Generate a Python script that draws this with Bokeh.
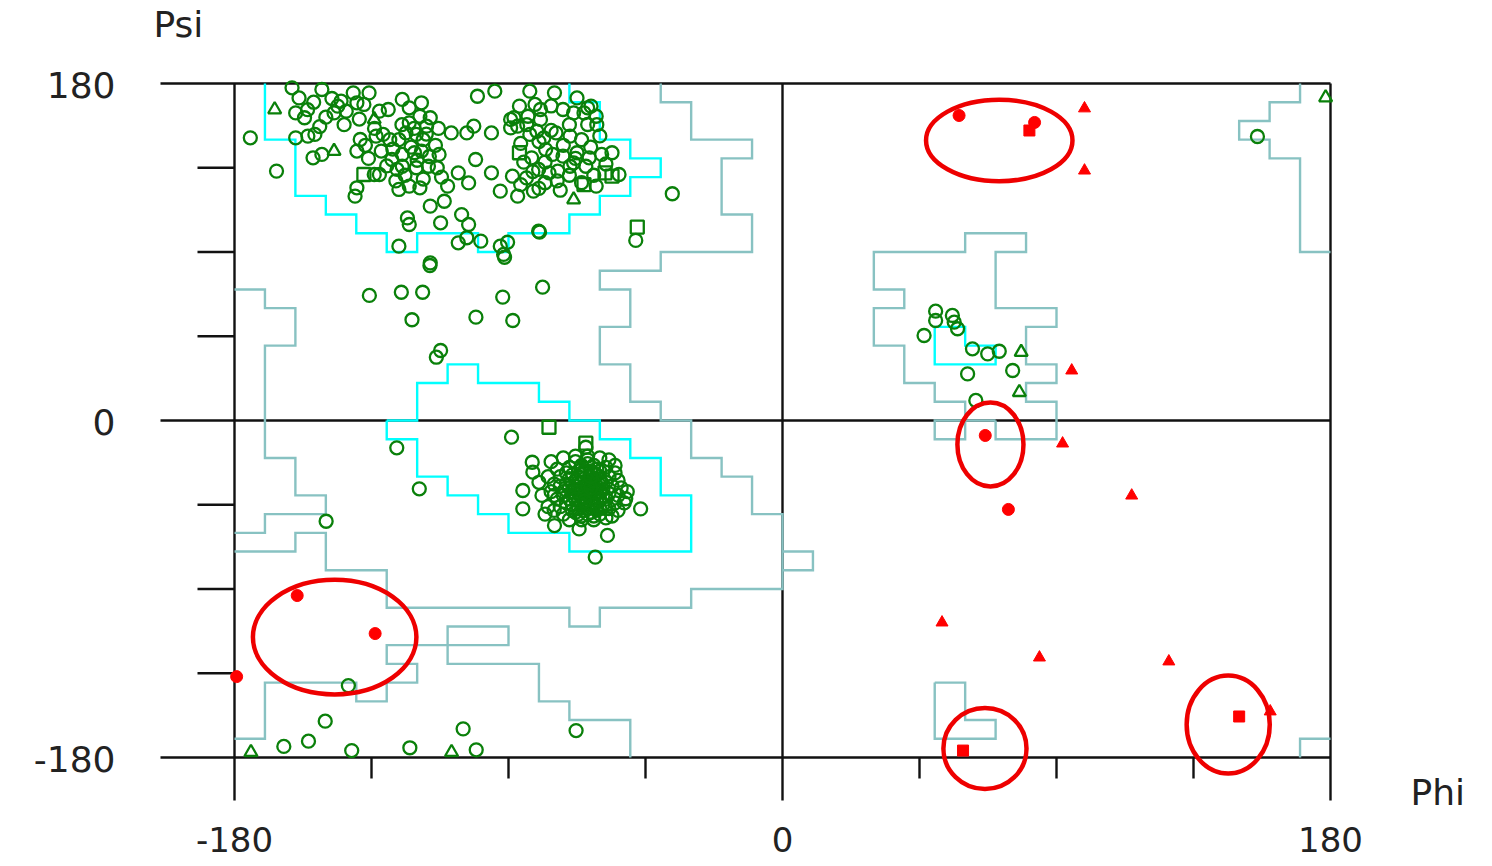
import numpy as np
from bokeh.plotting import figure
from bokeh.models import Range1d
from bokeh.embed import file_html
from bokeh.resources import INLINE
from bokeh.core.properties import value

# ---------------- data ----------------
major_ticks = [-180, 0, 180]
major_labels = ["-180", "0", "180"]
minor_ticks = [-135, -90, -45, 45, 90, 135]

# favoured (core) regions, cyan
core_beta = [(-170, 180), (-170, 150), (-160, 150), (-160, 120), (-150, 120), (-150, 110),
             (-140, 110), (-140, 100), (-130, 100), (-130, 90), (-120, 90), (-120, 100),
             (-100, 100), (-100, 90), (-90, 90), (-90, 100), (-70, 100), (-70, 110),
             (-60, 110), (-60, 120), (-50, 120), (-50, 130), (-40, 130), (-40, 140),
             (-50, 140), (-50, 150), (-60, 150), (-60, 170), (-70, 170), (-70, 180)]
core_alpha = [(-130, 0), (-120, 0), (-120, 20), (-110, 20), (-110, 30), (-100, 30),
              (-100, 20), (-80, 20), (-80, 10), (-70, 10), (-70, 0), (-60, 0), (-60, -10),
              (-50, -10), (-50, -20), (-40, -20), (-40, -40), (-30, -40), (-30, -70),
              (-70, -70), (-70, -60), (-90, -60), (-90, -50), (-100, -50), (-100, -40),
              (-110, -40), (-110, -30), (-120, -30), (-120, -10), (-130, -10), (-130, 0)]
core_left = [(50, 50), (60, 50), (60, 40), (70, 40), (70, 30), (50, 30), (50, 50)]

# allowed regions, grey-teal
allowed_main = [(-180, -70), (-160, -70), (-160, -60), (-150, -60), (-150, -80), (-130, -80),
                (-130, -100), (-70, -100), (-70, -110), (-60, -110), (-60, -100), (-30, -100),
                (-30, -90), (0, -90), (0, -50), (-10, -50), (-10, -30), (-20, -30), (-20, -20),
                (-30, -20), (-30, 0), (-40, 0), (-40, 10), (-50, 10), (-50, 30), (-60, 30),
                (-60, 50), (-50, 50), (-50, 70), (-60, 70), (-60, 80), (-40, 80), (-40, 90),
                (-10, 90), (-10, 110), (-20, 110), (-20, 140), (-10, 140), (-10, 150),
                (-30, 150), (-30, 170), (-40, 170), (-40, 180)]
allowed_left_edge = [(-180, 70), (-170, 70), (-170, 60), (-160, 60), (-160, 40), (-170, 40),
                     (-170, -20), (-160, -20), (-160, -40), (-150, -40), (-150, -50),
                     (-170, -50), (-170, -60), (-180, -60)]
allowed_bottom_left = [(-180, -170), (-170, -170), (-170, -140), (-140, -140), (-140, -150),
                       (-130, -150), (-130, -140), (-120, -140), (-120, -130), (-130, -130),
                       (-130, -120), (-90, -120), (-90, -110), (-110, -110), (-110, -130),
                       (-80, -130), (-80, -150), (-70, -150), (-70, -160), (-50, -160),
                       (-50, -180)]
allowed_box_zero = [(0, -70), (10, -70), (10, -80), (0, -80)]
allowed_left_handed = [(70, 0), (70, -10), (90, -10), (90, 10), (80, 10), (80, 20), (90, 20),
                       (90, 30), (80, 30), (80, 50), (90, 50), (90, 60), (70, 60), (70, 90),
                       (80, 90), (80, 100), (60, 100), (60, 90), (30, 90), (30, 70), (40, 70),
                       (40, 60), (30, 60), (30, 40), (40, 40), (40, 20), (50, 20), (50, 10),
                       (60, 10), (60, 0), (50, 0), (50, -10), (60, -10), (60, 0), (70, 0)]
allowed_bottom_mid = [(50, -140), (60, -140), (60, -160), (70, -160), (70, -170), (50, -170),
                      (50, -140)]
allowed_top_right = [(170, 180), (170, 170), (160, 170), (160, 160), (150, 160), (150, 150),
                     (160, 150), (160, 140), (170, 140), (170, 90), (180, 90)]
allowed_bottom_right = [(170, -180), (170, -170), (180, -170)]

# non-glycine residues (green, open circles)
beta_circles = [
    (-161.1, 177.7), (-158.8, 172.3), (-151.3, 176.8), (-135.8, 175.0), (-145.0, 170.6),
    (-146.1, 167.9), (-139.8, 169.7), (-137.5, 168.8), (-124.9, 171.5), (-118.6, 169.7),
    (-100.2, 173.2), (-94.5, 175.9), (-83.0, 175.9), (-74.9, 175.0), (-67.5, 172.3),
    (-62.9, 167.9), (-159.9, 164.3), (-157.0, 161.7), (-147.3, 164.3), (-143.3, 165.2),
    (-132.4, 165.2), (-129.5, 166.1), (-122.6, 167.0), (-119.1, 162.5), (-115.7, 161.7),
    (-122.6, 159.0), (-86.4, 167.9), (-81.3, 168.8), (-88.2, 161.7), (-72.1, 166.1),
    (-68.6, 164.3), (-65.2, 164.3), (-61.2, 162.5), (-83.6, 162.5), (-79.5, 160.8),
    (-174.8, 151.0), (-159.9, 151.0), (-155.9, 151.9), (-153.6, 152.8), (-138.7, 150.1),
    (-133.5, 151.9), (-131.2, 152.8), (-123.7, 153.6), (-120.3, 152.8), (-116.9, 157.2),
    (-108.8, 153.6), (-103.7, 153.6), (-101.4, 157.2), (-95.6, 153.6), (-89.3, 156.3),
    (-87.0, 157.2), (-83.0, 152.8), (-80.7, 154.5), (-78.4, 151.0), (-74.4, 153.6),
    (-69.8, 151.9), (-64.0, 158.1), (-89.3, 160.8), (-79.5, 166.1), (-154.2, 140.3),
    (-151.3, 142.1), (-139.8, 143.9), (-131.8, 143.9), (-128.3, 139.4), (-124.9, 142.1),
    (-120.9, 143.0), (-118.6, 143.9), (-112.8, 142.1), (-100.8, 139.4), (-82.4, 140.3),
    (-77.8, 144.7), (-75.5, 142.1), (-72.1, 141.2), (-67.5, 143.0), (-63.5, 140.3),
    (-59.4, 142.1), (-68.6, 137.6), (-166.2, 133.2), (-134.1, 131.4), (-132.4, 131.4),
    (-126.6, 134.1), (-124.9, 135.8), (-120.3, 135.0), (-116.3, 135.8), (-113.4, 135.0),
    (-106.5, 132.3), (-95.6, 132.3), (-88.7, 130.5), (-84.1, 129.6), (-80.1, 134.1),
    (-76.7, 132.3), (-73.8, 133.2), (-69.8, 135.8), (-64.6, 135.8), (-53.7, 131.4),
    (-139.8, 124.3), (-140.4, 119.8), (-126.0, 123.4), (-122.6, 125.2), (-119.1, 124.3),
    (-110.0, 125.2), (-103.1, 126.9), (-92.7, 122.5), (-87.0, 119.8), (-81.8, 122.5),
    (-61.2, 125.2), (-36.2, 121.1), (-115.7, 114.5), (-111.1, 117.1), (-123.2, 108.2),
    (-122.6, 104.7), (-112.3, 105.6), (-105.4, 110.0), (-103.1, 104.7), (-106.5, 94.9),
    (-103.7, 97.6), (-99.1, 95.8), (-92.7, 93.1), (-91.6, 88.7), (-80.1, 101.1),
    (-48.2, 96.2), (-126.0, 93.1), (-115.7, 84.2), (-126.0, 150.0), (-122.0, 146.0),
    (-118.0, 150.0), (-114.0, 147.0), (-128.0, 145.0), (-120.0, 139.0), (-116.0, 141.0),
    (-124.0, 131.0), (-118.0, 129.0), (-112.0, 130.0), (-127.0, 128.0), (-121.0, 156.0),
    (-117.0, 153.0), (-113.0, 156.0), (-125.0, 158.0), (-84.0, 158.0), (-80.0, 149.0),
    (-76.0, 155.0), (-72.0, 147.0), (-70.0, 158.0), (-66.0, 150.0), (-78.0, 138.0),
    (-74.0, 128.0), (-70.0, 131.0), (-66.0, 127.0), (-86.0, 148.0), (-82.0, 133.0),
    (-78.0, 127.0), (-68.0, 140.0), (-63.0, 146.0), (-60.0, 152.0), (-86.0, 126.0),
    (-80.0, 124.0), (-73.0, 123.0), (-62.0, 131.0), (-58.0, 137.0), (-56.0, 143.0),
    (-61.0, 158.0), (-64.0, 167.0), (-76.0, 168.0), (-85.0, 138.0), (-156.0, 166.0),
    (-150.0, 162.0), (-144.0, 158.0), (-141.0, 175.0), (-148.0, 172.0), (-154.0, 170.0),
    (-139.0, 161.0), (-152.0, 157.0), (-136.0, 140.0), (-130.0, 136.0), (-137.0, 147.0),
    (-129.0, 150.0), (-134.0, 156.0)]
other_circles = [
    (-79.8, 100.6), (-78.8, 71.2), (-88.6, 53.4), (-91.9, 65.9), (-91.3, 87.2), (-90.3, 95.2),
    (-115.8, 82.8), (-135.7, 66.8), (-125.2, 68.5), (-118.2, 68.5), (-121.7, 53.8),
    (-100.7, 55.2), (-112.3, 37.4), (-113.7, 33.8), (-89.0, -8.9), (-126.7, -14.6),
    (-119.3, -36.5), (-82.2, -22.3), (-85.3, -37.4), (-85.3, -47.2), (-82.0, -27.6),
    (-74.9, -56.1), (-66.8, -57.9), (-57.5, -61.4), (-46.6, -47.2), (-51.5, -41.8),
    (-61.5, -73.0), (-64.6, -14.3), (-149.9, -53.8), (-142.6, -141.6), (-150.2, -160.6),
    (-155.7, -171.3), (-163.8, -174.1), (-141.5, -176.3), (-122.4, -174.8), (-104.9, -164.7),
    (-100.6, -175.9), (-67.8, -165.6), (50.3, 58.4), (55.8, 56.1), (50.3, 53.4), (56.4, 52.5),
    (46.5, 45.4), (57.5, 49.0), (62.4, 38.3), (67.4, 35.6), (71.2, 37.0), (75.6, 26.7),
    (60.8, 24.9), (63.5, 10.7), (156.0, 151.7)]
alpha_circles = [
    (-76, -22), (-72, -20), (-68, -19), (-64, -19), (-60, -20), (-57, -21), (-55, -24),
    (-74, -26), (-70, -25), (-66, -24), (-62, -24), (-58, -25), (-55, -28), (-77, -30),
    (-73, -30), (-69, -29), (-65, -28), (-61, -29), (-57, -30), (-54, -32), (-75, -34),
    (-71, -34), (-67, -33), (-63, -33), (-59, -34), (-56, -35), (-53, -36), (-76, -38),
    (-72, -38), (-68, -37), (-64, -37), (-60, -38), (-57, -39), (-54, -40), (-74, -42),
    (-70, -42), (-66, -41), (-62, -41), (-58, -42), (-55, -44), (-77, -46), (-73, -46),
    (-69, -45), (-65, -45), (-61, -46), (-57, -47), (-54, -48), (-72, -50), (-68, -49),
    (-64, -50), (-60, -50), (-56, -51), (-70, -53), (-66, -53), (-62, -53), (-58, -52),
    (-63, -27), (-66, -36), (-61, -43), (-69, -40), (-65, -31), (-59, -37), (-67, -47),
    (-63, -44), (-71, -28), (-60, -31), (-79, -40), (-80, -33), (-78, -50), (-52, -44),
    (-51, -38), (-68, -22), (-64, -23), (-61, -26), (-67, -27), (-70, -31), (-66, -29),
    (-62, -31), (-58, -33), (-70, -36), (-65, -35), (-61, -35), (-67, -39), (-63, -39),
    (-59, -40), (-71, -44), (-67, -43), (-63, -42), (-59, -45), (-65, -48), (-61, -48),
    (-69, -48), (-66, -51), (-62, -51), (-72, -40), (-73, -35), (-60, -27), (-58, -47),
    (-75, -48), (-75, -40), (-62, -37), (-64, -21), (-66, -26), (-62, -28), (-68, -32),
    (-64, -32), (-60, -33), (-68, -35), (-64, -35), (-66, -38), (-62, -39), (-68, -42),
    (-64, -40), (-60, -42), (-66, -45), (-62, -45), (-64, -47), (-60, -47), (-67, -50),
    (-63, -49), (-69, -38), (-65, -43), (-63, -36), (-67, -30), (-63, -30)]
green_squares = [(-86.4, 143.0), (-58.3, 132.3), (-56.0, 130.5), (-65.2, 126.0),
                 (-47.7, 103.3), (-76.7, -3.6), (-137.5, 131.4), (-64.6, -12.1)]
green_triangles = [(-166.8, 166.1), (-134.1, 160.8), (-147.3, 143.9), (-68.6, 118.0),
                   (-174.6, -177.2), (-108.7, -177.2), (78.4, 36.5), (77.8, 15.1),
                   (178.4, 172.5)]

# residues in disallowed regions (red, filled)
red_circles = [(58.0, 162.9), (82.8, 159.2), (66.6, -8.0), (74.2, -47.5), (-159.4, -93.5),
               (-133.8, -113.8), (-179.3, -136.8)]
red_squares = [(81.1, 154.9), (59.3, -176.3), (150.0, -158.1)]
red_triangles = [(99.2, 166.7), (99.2, 133.5), (95.0, 26.7), (92.0, -12.3), (114.7, -40.1),
                 (52.4, -107.9), (84.4, -126.6), (126.9, -128.7), (160.2, -155.4)]

# highlighted outliers (red ellipses): centre phi, centre psi, width, height (degrees)
ring_phi = [71.2, 68.3, -147.1, 66.5, 146.4]
ring_psi = [149.6, -12.8, -115.7, -175.2, -162.4]
ring_w = [48.1, 21.7, 53.7, 27.3, 27.3]
ring_h = [43.5, 44.9, 61.2, 43.3, 52.3]

# ---------------- layout ----------------
W, H = 1492, 866
PXX = 1096 / 360.0   # px per degree, phi
PXY = 674 / 360.0    # px per degree, psi
X0 = -180 - 234 / PXX
Y1 = 180 + 83 / PXY

p = figure(width=W, height=H, x_range=Range1d(X0, X0 + W / PXX),
           y_range=Range1d(Y1 - H / PXY, Y1), output_backend="svg",
           toolbar_location=None, x_axis_location=None, y_axis_location=None,
           min_border=0, outline_line_color=None, title=None)
p.background_fill_color = "white"
p.border_fill_color = "white"
p.xgrid.visible = False
p.ygrid.visible = False
p.grid.grid_line_color = None

AX = "#111111"
LW = 2.4
# frame / axis lines
hx0, hx1, hy = [], [], []
for v in major_ticks:
    hx0.append(-180 - 74 / PXX); hx1.append(180); hy.append(v)
p.segment(x0=hx0, y0=hy, x1=hx1, y1=hy, line_color=AX, line_width=LW)
p.segment(x0=major_ticks, y0=[180] * 3, x1=major_ticks, y1=[-180 - 43 / PXY] * 3,
          line_color=AX, line_width=LW)
p.segment(x0=[-180 - 37 / PXX] * len(minor_ticks), y0=minor_ticks,
          x1=[-180] * len(minor_ticks), y1=minor_ticks, line_color=AX, line_width=LW)
p.segment(x0=minor_ticks, y0=[-180] * len(minor_ticks), x1=minor_ticks,
          y1=[-180 - 21 / PXY] * len(minor_ticks), line_color=AX, line_width=LW)


def split(pts):
    return [a for a, b in pts], [b for a, b in pts]


allowed = [allowed_main, allowed_left_edge, allowed_bottom_left, allowed_box_zero,
           allowed_left_handed, allowed_bottom_mid, allowed_top_right, allowed_bottom_right]
p.multi_line(xs=[split(r)[0] for r in allowed], ys=[split(r)[1] for r in allowed],
             line_color="#88c2c2", line_width=2.4, line_join="miter")
core = [core_beta, core_alpha, core_left]
p.multi_line(xs=[split(r)[0] for r in core], ys=[split(r)[1] for r in core],
             line_color="#00ffff", line_width=2.4, line_join="miter")

G = "#0a800a"
cx, cy = split(beta_circles + other_circles + alpha_circles)
p.scatter(cx, cy, marker="circle", size=13, fill_color=None, line_color=G, line_width=2.3)
sx, sy = split(green_squares)
p.scatter(sx, sy, marker="square", size=13, fill_color=None, line_color=G, line_width=2.3)
tx, ty = split(green_triangles)
p.scatter(tx, ty, marker="triangle", size=13, fill_color=None, line_color=G, line_width=2.3)

R = "#ff0000"
rx, ry = split(red_circles)
p.scatter(rx, ry, marker="circle", size=12, fill_color=R, line_color=R, line_width=1)
rsx, rsy = split(red_squares)
p.scatter(rsx, rsy, marker="square", size=11, fill_color=R, line_color=R, line_width=1)
rtx, rty = split(red_triangles)
p.scatter(rtx, rty, marker="triangle", size=12, fill_color=R, line_color=R, line_width=1)

p.ellipse(x=ring_phi, y=ring_psi, width=ring_w, height=ring_h, fill_color=None,
          line_color="#ee0000", line_width=4.5)

FONT = value("DejaVu Sans")
TC = "#222222"
FS = "36px"
p.text(x=[-180] * 3, y=[180, 0, -180], text=["180", "0", "-180"], text_align="right",
       text_baseline="middle", x_offset=-119, y_offset=1, text_font=FONT,
       text_font_size=FS, text_color=TC)
p.text(x=major_ticks, y=[-180] * 3, text=major_labels, text_align="center",
       text_baseline="middle", y_offset=82, text_font=FONT, text_font_size="34px",
       text_color=TC)
p.text(x=[-180], y=[180], text=["Psi"], text_align="left", text_baseline="middle",
       x_offset=-81, y_offset=-59, text_font=FONT, text_font_size=FS, text_color=TC)
p.text(x=[180], y=[-180], text=["Phi"], text_align="left", text_baseline="middle",
       x_offset=80, y_offset=35, text_font=FONT, text_font_size=FS, text_color=TC)

open("out.html", "w").write(file_html(p, INLINE))
